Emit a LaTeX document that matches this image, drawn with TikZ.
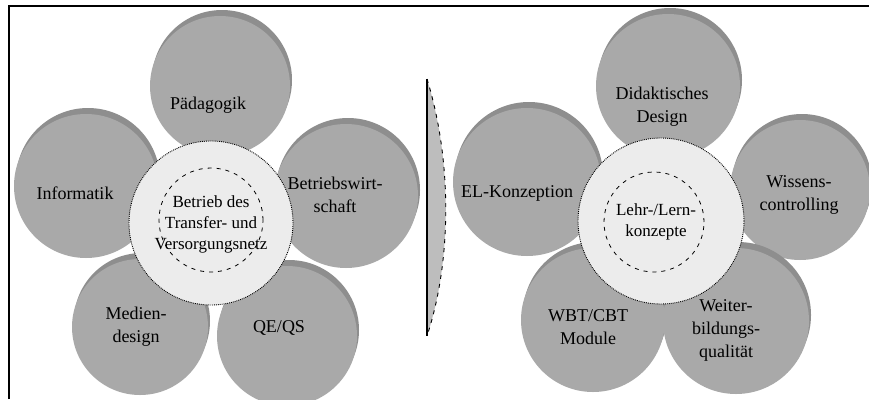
\documentclass[tikz,border=0pt]{standalone}
\usepackage{fontspec}
\setmainfont{Liberation Serif}
\definecolor{petalgray}{HTML}{A9A9A9}
\definecolor{rimgray}{HTML}{8E8E8E}
\definecolor{hubgray}{HTML}{ECECEC}
\definecolor{sepgray}{HTML}{BDBDBD}
\tikzset{
  petal/.style={circle, fill=petalgray, inner sep=0pt},
  rim/.style={fill=rimgray},
  ptext/.style={align=center, inner sep=0pt, font=\fontsize{18}{23}\selectfont},
  hub/.style={circle, fill=hubgray, draw=black, densely dotted, line width=0.9pt, inner sep=0pt},
  innerring/.style={circle, draw=black, dash pattern=on 4pt off 5pt, line width=0.8pt, inner sep=0pt},
  htext/.style={align=center, inner sep=0pt, font=\fontsize{17}{21}\selectfont},
}
\newcommand\mypetal[4]{%
  \fill[rim] (#2+2,#3-6) circle (#4pt);
  \node[petal, minimum size=2*#4pt] (#1) at (#2,#3) {};
}
\begin{document}
\begin{tikzpicture}[x=1pt,y=-1pt]
\useasboundingbox (0,0) rectangle (869,399);
\fill[white] (0,0) rectangle (869,399);
% frame
\coordinate (fb) at (9,399);
\coordinate (ftl) at (9,6);
\coordinate (ftr) at (869,6);
\draw[line width=1.6pt] (fb) -- (ftl) -- (ftr);

% ---- left flower ----
\mypetal{pA}{220}{86}{70}
\mypetal{pB}{86}{186}{72}
\mypetal{pC}{346}{196}{72}
\mypetal{pD}{140}{327}{68}
\mypetal{pE}{287}{336}{70}
\node[ptext] (tA) at (208,105) {Pädagogik};
\node[ptext] (tB) at (75,193) {Informatik};
\node[ptext] (tC) at (335,195) {Betriebswirt-\\schaft};
\node[ptext] (tD) at (136,327) {Medien-\\design};
\node[ptext] (tE) at (279,328) {QE/QS};
\node[hub, minimum size=164pt] (hL) at (211,223) {};
\node[innerring, minimum size=104pt] (iL) at (211,220) {};
\node[htext] (tL) at (211,224) {Betrieb des\\Transfer- und\\Versorgungsnetz};

% ---- separator ----
\coordinate (sT) at (427,79);
\coordinate (sB) at (427,336);
\fill[sepgray] (sT) .. controls (452,160) and (452,260) .. (sB) -- cycle;
\draw[line width=0.9pt, dash pattern=on 4pt off 5pt] (sT) .. controls (452,160) and (452,260) .. (sB);
\draw[line width=1.5pt] (sT) -- (sB);

% ---- right flower ----
\mypetal{qA}{668}{86}{72}
\mypetal{qB}{527}{182}{74}
\mypetal{qC}{800}{190}{70}
\mypetal{qD}{593}{320}{72}
\mypetal{qE}{736}{321}{73}
\node[ptext] (uA) at (662,107) {Didaktisches\\Design};
\node[ptext] (uB) at (517,193) {EL-Konzeption};
\node[ptext] (uC) at (799,195) {Wissens-\\controlling};
\node[ptext] (uD) at (588,327) {WBT/CBT\\Module};
\node[ptext] (uE) at (726,330) {Weiter-\\bildungs-\\qualität};
\node[hub, minimum size=166pt] (hR) at (661,221) {};
\node[innerring, minimum size=100pt] (iR) at (654,222) {};
\node[htext] (tR) at (656,222) {Lehr-/Lern-\\konzepte};
\end{tikzpicture}
\end{document}
